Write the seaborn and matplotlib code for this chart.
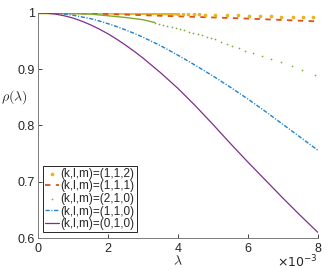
import matplotlib
matplotlib.use("Agg")
import matplotlib.pyplot as plt
import seaborn as sns

# lambda in units of 1e-3
lam_112_line = [0, 0.5, 1, 1.5, 2, 2.5, 3, 3.5, 4.0]
rho_112_line = [1.0, 1.0, 1.0, 0.9998, 0.9995, 0.9993, 0.999, 0.9985, 0.998]
lam_112_dots = [4.0, 4.15, 4.3, 4.45, 4.6, 4.77, 5.06, 5.39, 5.72, 6.04, 6.34, 6.66, 6.96, 7.28, 7.58, 7.87]
rho_112_dots = [0.998, 0.998, 0.998, 0.9975, 0.9973, 0.997, 0.9967, 0.9962, 0.9957, 0.995, 0.9945, 0.994,
                0.9935, 0.993, 0.9925, 0.992]

lam_111 = [0, 1, 2, 3, 4, 5, 6, 7, 8]
rho_111 = [1.0, 0.9995, 0.998, 0.996, 0.994, 0.992, 0.990, 0.9875, 0.985]

lam_210_line = [0, 0.5, 1, 1.5, 2, 2.5, 3, 3.34]
rho_210_line = [1.0, 0.9998, 0.999, 0.998, 0.995, 0.992, 0.988, 0.983]
lam_210_dots = [3.34, 3.46, 3.58, 3.70, 3.82, 3.94, 4.06, 4.18, 4.31, 4.44, 4.57, 4.70, 4.83, 4.95,
                5.06, 5.22, 5.39, 5.56, 5.75, 5.93, 6.15, 6.39, 6.65, 6.94, 7.25, 7.56, 7.91]
rho_210_dots = [0.983, 0.981, 0.979, 0.977, 0.975, 0.973, 0.971, 0.969, 0.967, 0.965, 0.962, 0.960, 0.958, 0.955,
                0.953, 0.949, 0.945, 0.941, 0.937, 0.933, 0.929, 0.924, 0.919, 0.913, 0.906, 0.899, 0.890]

lam_110 = [0, 0.25, 0.5, 0.75, 1, 1.25, 1.5, 1.75, 2, 2.25, 2.5, 2.75, 3, 3.5, 4, 4.5, 5, 5.5, 6, 6.5,
           7, 7.5, 8]
rho_110 = [1.0, 0.9998, 0.999, 0.998, 0.996, 0.993, 0.99, 0.9858, 0.981, 0.9758, 0.97, 0.9638, 0.957,
           0.942, 0.925, 0.907, 0.888, 0.868, 0.847, 0.825, 0.802, 0.779, 0.756]

lam_010 = [0, 0.25, 0.5, 0.75, 1, 1.25, 1.5, 1.75, 2, 2.25, 2.5, 2.75, 3, 3.25, 3.5, 3.75, 4, 4.5, 5,
           5.5, 6, 6.5, 7, 7.5, 8]
rho_010 = [1.0, 0.9995, 0.998, 0.995, 0.991, 0.9855, 0.979, 0.9715, 0.963, 0.9535, 0.943, 0.9318, 0.920,
           0.907, 0.894, 0.880, 0.866, 0.835, 0.802, 0.768, 0.735, 0.703, 0.671, 0.640, 0.610]

labels = ["(k,l,m)=(1,1,2)", "(k,l,m)=(1,1,1)", "(k,l,m)=(2,1,0)", "(k,l,m)=(1,1,0)", "(k,l,m)=(0,1,0)"]
x_ticks = [0, 2, 4, 6, 8]
y_ticks = [0.6, 0.7, 0.8, 0.9, 1.0]
y_ticklabels = ["0.6", "0.7", "0.8", "0.9", "1"]

sns.set_style("ticks")
plt.rcParams["font.family"] = ["Liberation Sans", "DejaVu Sans"]
plt.rcParams["mathtext.fontset"] = "cm"

c_yel = "#EDB120"
c_red = "#D95319"
c_grn = "#77AC30"
c_blu = "#1a84cc"
c_pur = "#7E2F8E"
grey = "#262626"

fig = plt.figure(figsize=(3.27, 2.70), dpi=100)
ax = fig.add_axes([0.116, 0.1185, 0.856, 0.8335])

# (1,1,2)
sns.lineplot(x=lam_112_line, y=rho_112_line, ax=ax, color=c_yel, lw=2.0)
h112 = ax.scatter(lam_112_dots, rho_112_dots, s=7, color=c_yel, linewidths=0, zorder=3)
# (1,1,1)
sns.lineplot(x=lam_111, y=rho_111, ax=ax, color=c_red, lw=1.3, linestyle=(0, (3, 3)))
h111 = ax.get_lines()[-1]
# (2,1,0)
sns.lineplot(x=lam_210_line, y=rho_210_line, ax=ax, color=c_grn, lw=1.0)
h210 = ax.scatter(lam_210_dots, rho_210_dots, s=1.5, color=c_grn, linewidths=0, zorder=3)
# (1,1,0)
sns.lineplot(x=lam_110, y=rho_110, ax=ax, color=c_blu, lw=1.0, linestyle=(0, (3, 1.2, 0.8, 1.2)))
h110 = ax.get_lines()[-1]
# (0,1,0)
sns.lineplot(x=lam_010, y=rho_010, ax=ax, color=c_pur, lw=0.9)
h010 = ax.get_lines()[-1]

ax.set_xlim(0, 8)
ax.set_ylim(0.6, 1.0)
ax.set_xticks(x_ticks)
ax.set_xticklabels([str(t) for t in x_ticks])
ax.set_yticks(y_ticks)
ax.set_yticklabels(y_ticklabels)
ax.tick_params(direction="in", length=3, width=0.6, colors=grey, labelsize=9)
ax.tick_params(axis="x", pad=3.5)
ax.tick_params(axis="y", pad=2)
sns.despine(ax=ax)
for sp in ["left", "bottom"]:
    ax.spines[sp].set_color("#7a7a7a")
    ax.spines[sp].set_linewidth(0.7)

ax.set_xlabel(r"$\lambda$", fontsize=10, color=grey, va="center")
ax.xaxis.set_label_coords(0.5, -0.105)
ax.set_ylabel(r"$\rho(\lambda)$", fontsize=10, color=grey, rotation=0, ha="left", va="center")
ax.yaxis.set_label_coords(-0.132, 0.627)
ax.text(1.0, -0.105, r"$\times10^{-3}$", transform=ax.transAxes, ha="right", va="center",
        fontsize=9, color=grey, math_fontfamily="dejavusans")

leg = ax.legend([h112, h111, h210, h110, h010], labels, loc="lower left",
                bbox_to_anchor=(0.018, 0.027), borderaxespad=0, fontsize=8.5,
                handlelength=1.2, handletextpad=0.15, labelspacing=0.05, borderpad=0.15,
                scatterpoints=1, fancybox=False, framealpha=1, edgecolor=grey)
leg.get_frame().set_linewidth(0.7)
for t in leg.get_texts():
    t.set_color(grey)

fig.savefig("out.png", dpi=100)
